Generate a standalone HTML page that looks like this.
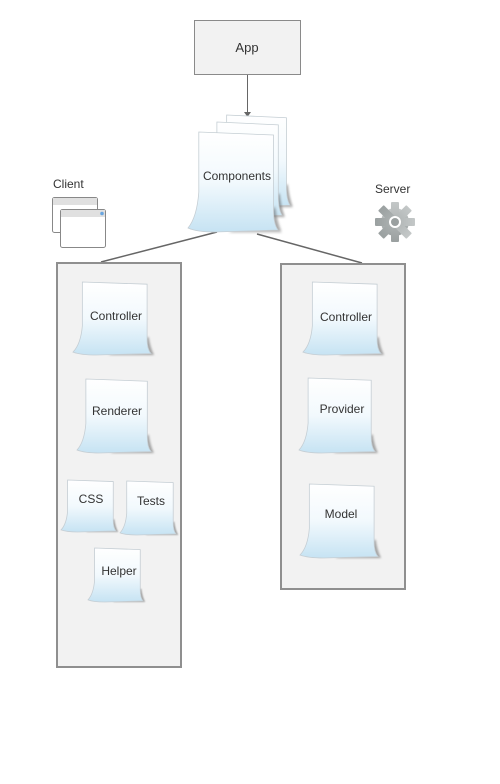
<!DOCTYPE html>
<html><head><meta charset="utf-8"><style>
html,body{margin:0;padding:0;background:#fff;}
svg{display:block;font-family:"Liberation Sans",Arial,sans-serif;}
</style></head><body>
<svg width="500" height="784" viewBox="0 0 500 784" xmlns="http://www.w3.org/2000/svg">
<defs>
<linearGradient id="g" x1="0" y1="0" x2="0" y2="1">
<stop offset="0" stop-color="#ffffff"/><stop offset="0.5" stop-color="#f2f9fd"/><stop offset="1" stop-color="#c6e3f3"/>
</linearGradient>
<linearGradient id="gear" x1="0" y1="0" x2="0" y2="1"><stop offset="0" stop-color="#c4c8c8"/><stop offset="1" stop-color="#9aa0a0"/></linearGradient>
<filter id="b"><feGaussianBlur stdDeviation="1.5"/></filter>
<g id="note">
<path d="M45,100 L104,100 Q99,90 97,75 Z" fill="#666" opacity="0.55" filter="url(#b)"/>
<path d="M12,0 L95,3 L95,78 Q95,92 100,98 L30,100 Q10,100 0,96 Q10,85 12,60 Z" fill="url(#g)" stroke="#c5ced4" stroke-width="0.8" vector-effect="non-scaling-stroke"/>
</g>
</defs>

<!-- App -->
<rect x="194.5" y="20.5" width="106" height="54" fill="#f2f2f2" stroke="#8a8a8a"/>
<text x="247" y="52" font-size="13" text-anchor="middle" fill="#333">App</text>
<line x1="247.5" y1="75" x2="247.5" y2="114" stroke="#666"/>
<path d="M244,112 L251,112 L247.5,117 Z" fill="#666"/>

<!-- connectors -->
<line x1="217" y1="232" x2="101" y2="262" stroke="#666" stroke-width="1.5"/>
<line x1="257" y1="234" x2="362" y2="263" stroke="#666" stroke-width="1.5"/>

<!-- Components -->
<use href="#note" transform="translate(218,115) scale(0.72,0.92)"/>
<use href="#note" transform="translate(208,122) scale(0.74,0.95)"/>
<use href="#note" transform="translate(188,132) scale(0.90,1.0)"/>
<text x="237" y="180" font-size="12" text-anchor="middle" fill="#333">Components</text>

<!-- Client -->
<text x="53" y="188" font-size="12" fill="#333">Client</text>
<rect x="52.5" y="197.5" width="45" height="35" rx="2" fill="#fff" stroke="#888"/>
<rect x="53" y="198" width="44" height="7" fill="#e0e0e0"/>
<rect x="60.5" y="209.5" width="45" height="38" rx="2" fill="#fff" stroke="#888"/>
<rect x="61" y="210" width="44" height="7" fill="#e0e0e0"/>
<circle cx="102" cy="213.5" r="1.8" fill="#6aa6e0"/>

<rect x="57" y="263" width="124" height="404" fill="#f2f2f2" stroke="#8f8f8f" stroke-width="2"/>
<use href="#note" transform="translate(73,282) scale(0.78,0.73)"/>
<text x="116" y="320" font-size="12" text-anchor="middle" fill="#333">Controller</text>
<use href="#note" transform="translate(77,379) scale(0.74,0.74)"/>
<text x="117" y="415" font-size="12" text-anchor="middle" fill="#333">Renderer</text>
<use href="#note" transform="translate(61,480) scale(0.55,0.52)"/>
<text x="91" y="503" font-size="12" text-anchor="middle" fill="#333">CSS</text>
<use href="#note" transform="translate(120,481) scale(0.56,0.54)"/>
<text x="151" y="505" font-size="12" text-anchor="middle" fill="#333">Tests</text>
<use href="#note" transform="translate(88,548) scale(0.55,0.54)"/>
<text x="119" y="575" font-size="12" text-anchor="middle" fill="#333">Helper</text>

<!-- Server -->
<text x="375" y="193" font-size="12" fill="#333">Server</text>
<g transform="translate(395,222)">
<g fill="url(#gear)">
<circle r="14"/>
<rect x="-4" y="-20" width="8" height="40" rx="1"/>
<rect x="-4" y="-20" width="8" height="40" rx="1" transform="rotate(45)"/>
<rect x="-4" y="-20" width="8" height="40" rx="1" transform="rotate(90)"/>
<rect x="-4" y="-20" width="8" height="40" rx="1" transform="rotate(135)"/>
</g>
<circle r="6" fill="#fff"/>
<circle r="4" fill="#9aa0a0"/>
</g>

<rect x="281" y="264" width="124" height="325" fill="#f2f2f2" stroke="#8f8f8f" stroke-width="2"/>
<use href="#note" transform="translate(303,282) scale(0.78,0.73)"/>
<text x="346" y="321" font-size="12" text-anchor="middle" fill="#333">Controller</text>
<use href="#note" transform="translate(299,378) scale(0.76,0.75)"/>
<text x="342" y="413" font-size="12" text-anchor="middle" fill="#333">Provider</text>
<use href="#note" transform="translate(300,484) scale(0.78,0.74)"/>
<text x="341" y="518" font-size="12" text-anchor="middle" fill="#333">Model</text>
</svg>
</body></html>
